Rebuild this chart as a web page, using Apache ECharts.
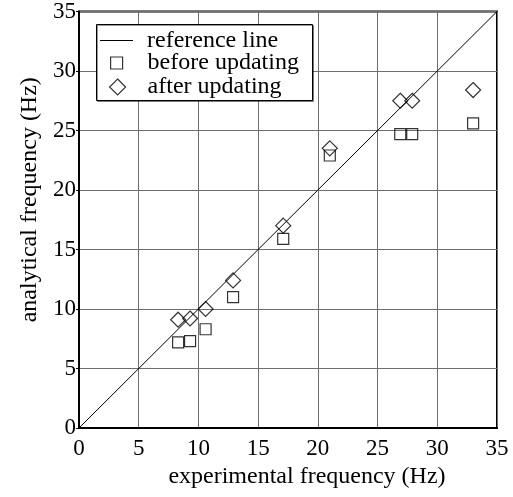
<!DOCTYPE html>
<html>
<head>
<meta charset="utf-8">
<script src="https://cdn.jsdelivr.net/npm/echarts@6/dist/echarts.min.js"></script>
<style>
html, body { margin: 0; padding: 0; background: #fff; }
#chart { width: 513px; height: 497px; }
</style>
</head>
<body>
<div id="chart"></div>
<script>
// experimental frequencies (Hz) of the measured modes
var expFreq    = [8.3, 9.3, 10.6, 12.9, 17.1, 21.0, 26.9, 27.9, 33.0];
// analytical frequencies before / after model updating
var beforeFreq = [7.2, 7.3, 8.3, 11.0, 15.9, 22.9, 24.7, 24.7, 25.6];
var afterFreq  = [9.1, 9.2, 10.0, 12.4, 17.0, 23.5, 27.5, 27.5, 28.4];
var refLine    = [[0, 0], [35, 35]];
var seriesNames = ['reference line', 'before updating', 'after updating'];

function pairs(xs, ys) {
    var out = [];
    for (var i = 0; i < xs.length; i++) out.push([xs[i], ys[i]]);
    return out;
}

var font = 'Liberation Serif';
var myChart = echarts.init(document.getElementById('chart'));

// one legend per entry so each icon gets its own size
function legendItem(name, left, top, w, h, icon, textPad, style) {
    return {
        data: [{ name: name, icon: icon, itemStyle: style }],
        left: left, top: top,
        z: 10,
        padding: 0,
        itemWidth: w, itemHeight: h,
        selectedMode: false,
        textStyle: { fontFamily: font, fontSize: 24, color: '#000', lineHeight: 24, padding: [0, 0, 0, textPad] }
    };
}

var emptyMark = { color: 'rgba(0,0,0,0)', borderColor: '#000', borderWidth: 1.2 };

var option = {
    backgroundColor: '#fff',
    animation: false,
    textStyle: { fontFamily: font, color: '#000' },
    grid: {
        left: 79, right: 16, top: 11, bottom: 69,
        show: true, borderColor: '#000', borderWidth: 2
    },
    graphic: [{
        type: 'rect',
        left: 96, top: 24, z: 3,
        shape: { width: 216, height: 76 },
        style: {
            fill: '#fff', stroke: '#000', lineWidth: 1,
            shadowColor: 'rgba(0,0,0,0.4)', shadowOffsetX: 1, shadowOffsetY: 1
        }
    }],
    legend: [
        legendItem(seriesNames[0], 100, 28.5, 33, 1, 'rect', 9, { color: '#000', borderWidth: 0 }),
        legendItem(seriesNames[1], 110, 51, 12, 12, 'rect', 20, emptyMark),
        legendItem(seriesNames[2], 109, 75, 16, 16, 'diamond', 17, emptyMark)
    ],
    xAxis: {
        type: 'value', min: 0, max: 35, interval: 5,
        name: 'experimental frequency (Hz)',
        nameLocation: 'middle', nameGap: 34,
        nameTextStyle: { fontFamily: font, fontSize: 24, color: '#000', padding: [0, 0, 0, 38] },
        axisLine: { lineStyle: { color: '#000', width: 2 } },
        axisTick: { show: false },
        axisLabel: { fontFamily: font, fontSize: 23, color: '#000', margin: 9 },
        splitLine: { lineStyle: { color: '#6e6e6e', width: 1 } }
    },
    yAxis: {
        type: 'value', min: 0, max: 35, interval: 5,
        name: 'analytical frequency (Hz)',
        nameLocation: 'middle', nameGap: 31,
        nameTextStyle: { fontFamily: font, fontSize: 24, color: '#000', padding: [0, 0, 0, 40] },
        axisLine: { lineStyle: { color: '#000', width: 2 } },
        axisTick: { show: true, length: 3, lineStyle: { color: '#000' } },
        axisLabel: { fontFamily: font, fontSize: 23, color: '#000', margin: 3 },
        splitLine: { lineStyle: { color: '#6e6e6e', width: 1 } }
    },
    series: [
        {
            name: seriesNames[0],
            type: 'line',
            data: refLine,
            symbol: 'none',
            lineStyle: { color: '#000', width: 1 },
            itemStyle: { color: '#000' }
        },
        {
            name: seriesNames[1],
            type: 'scatter',
            data: pairs(expFreq, beforeFreq),
            symbol: 'rect',
            symbolSize: 11,
            itemStyle: emptyMark
        },
        {
            name: seriesNames[2],
            type: 'scatter',
            data: pairs(expFreq, afterFreq),
            symbol: 'diamond',
            symbolSize: 15,
            itemStyle: emptyMark
        }
    ]
};

if (option && typeof option === 'object') {
    myChart.setOption(option, true);
}
</script>
</body>
</html>
